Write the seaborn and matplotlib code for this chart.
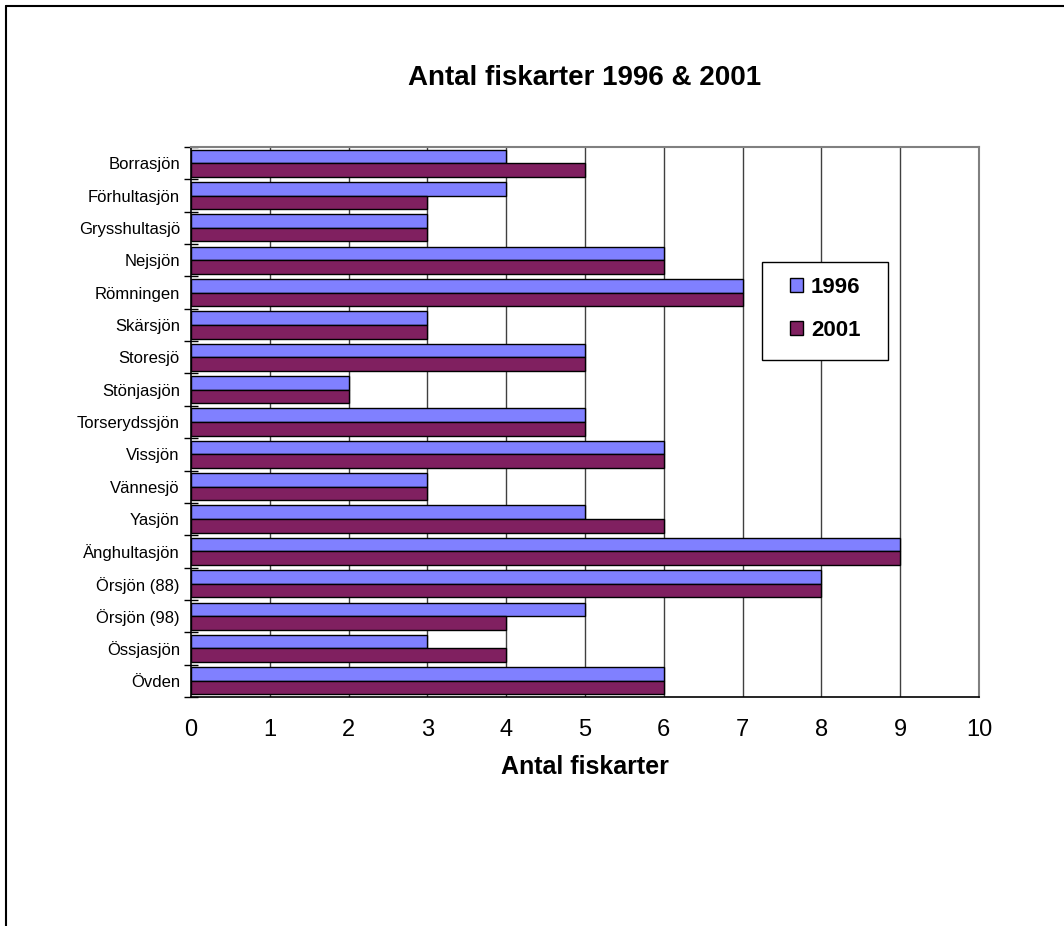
import matplotlib
matplotlib.use("Agg")
import matplotlib.pyplot as plt
from matplotlib.lines import Line2D
from matplotlib.patches import Patch, Rectangle
from matplotlib.ticker import FixedLocator, NullFormatter
import seaborn as sns
import pandas as pd
import numpy as np

lakes = ["Borrasjön", "Förhultasjön", "Grysshultasjö", "Nejsjön", "Römningen",
         "Skärsjön", "Storesjö", "Stönjasjön", "Torserydssjön", "Vissjön",
         "Vännesjö", "Yasjön", "Änghultasjön", "Örsjön (88)", "Örsjön (98)",
         "Össjasjön", "Övden"]
species_1996 = [4, 4, 3, 6, 7, 3, 5, 2, 5, 6, 3, 5, 9, 8, 5, 3, 6]
species_2001 = [5, 3, 3, 6, 7, 3, 5, 2, 5, 6, 3, 6, 9, 8, 4, 4, 6]
years = ["1996", "2001"]
x_ticks = list(range(0, 11))
colors = {"1996": "#8080FF", "2001": "#802060"}

df = pd.DataFrame({
    "Sjö": lakes * 2,
    "Antal": species_1996 + species_2001,
    "År": [years[0]] * len(lakes) + [years[1]] * len(lakes),
})

sns.set_style("white")
plt.rcParams["font.family"] = ["Liberation Sans", "DejaVu Sans"]
plt.rcParams["text.color"] = "black"
plt.rcParams["axes.labelcolor"] = "black"
plt.rcParams["xtick.color"] = "black"
plt.rcParams["ytick.color"] = "black"

W, H = 1064, 926
fig = plt.figure(figsize=(W / 100, H / 100), dpi=100)
ax = fig.add_axes([191 / W, 1 - 697 / H, (979 - 191) / W, (697 - 147) / H])

sns.barplot(data=df, y="Sjö", x="Antal", hue="År", order=lakes, hue_order=years,
            palette=colors, orient="h", width=0.84, edgecolor="black",
            linewidth=1.0, saturation=1, errorbar=None, legend=False,
            ax=ax, zorder=3)

ax.set_xlim(0, 10)
ax.set_ylim(len(lakes) - 0.5, -0.5)
ax.set_xticks(x_ticks)
ax.set_xticklabels([str(t) for t in x_ticks], fontsize=17)
ax.tick_params(axis="x", length=6, width=1, color="black", direction="out", pad=10)
ax.tick_params(axis="y", which="major", length=0, labelsize=12, pad=8)
ax.yaxis.set_minor_locator(FixedLocator(np.arange(-0.5, len(lakes), 1.0)))
ax.yaxis.set_minor_formatter(NullFormatter())
ax.tick_params(axis="y", which="minor", length=10, width=1, color="black",
               direction="inout", left=True)

ax.set_xlabel("Antal fiskarter", fontsize=18, fontweight="bold", labelpad=10)
ax.set_ylabel("")

for v in x_ticks[1:-1]:
    ax.axvline(v, color="#404040", linewidth=1.0, zorder=1)

for side in ["left", "bottom"]:
    ax.spines[side].set_color("black")
    ax.spines[side].set_linewidth(1.2)
for side in ["top", "right"]:
    ax.spines[side].set_visible(True)
    ax.spines[side].set_color("#808080")
    ax.spines[side].set_linewidth(1.5)

fig.text(0.5 * (191 + 979) / W, 1 - 78 / H, "Antal fiskarter 1996 & 2001",
         fontsize=20, fontweight="bold", ha="center", va="center")

# legend box and entries
box = Rectangle((762 / W, 1 - 360 / H), (888 - 762) / W, (360 - 262) / H,
                transform=fig.transFigure, facecolor="white", edgecolor="black",
                linewidth=1.0, zorder=4)
fig.add_artist(box)
handles = [Patch(facecolor=colors[y], edgecolor="black", linewidth=1.0) for y in years]
leg = fig.legend(handles, years, loc="center",
                 bbox_to_anchor=(825 / W, 1 - 309 / H), frameon=False,
                 prop={"size": 16, "weight": "bold"}, handlelength=0.6,
                 handleheight=0.6, handletextpad=0.35, labelspacing=1.0,
                 borderpad=0, borderaxespad=0)
leg.set_zorder(5)

# outer chart frame
fig.add_artist(Line2D([6 / W, 6 / W], [0, 1 - 6 / H], transform=fig.transFigure,
                      color="black", linewidth=1.5))
fig.add_artist(Line2D([6 / W, 1], [1 - 6 / H, 1 - 6 / H], transform=fig.transFigure,
                      color="black", linewidth=1.5))

fig.savefig("out.png", dpi=100, facecolor="white")
